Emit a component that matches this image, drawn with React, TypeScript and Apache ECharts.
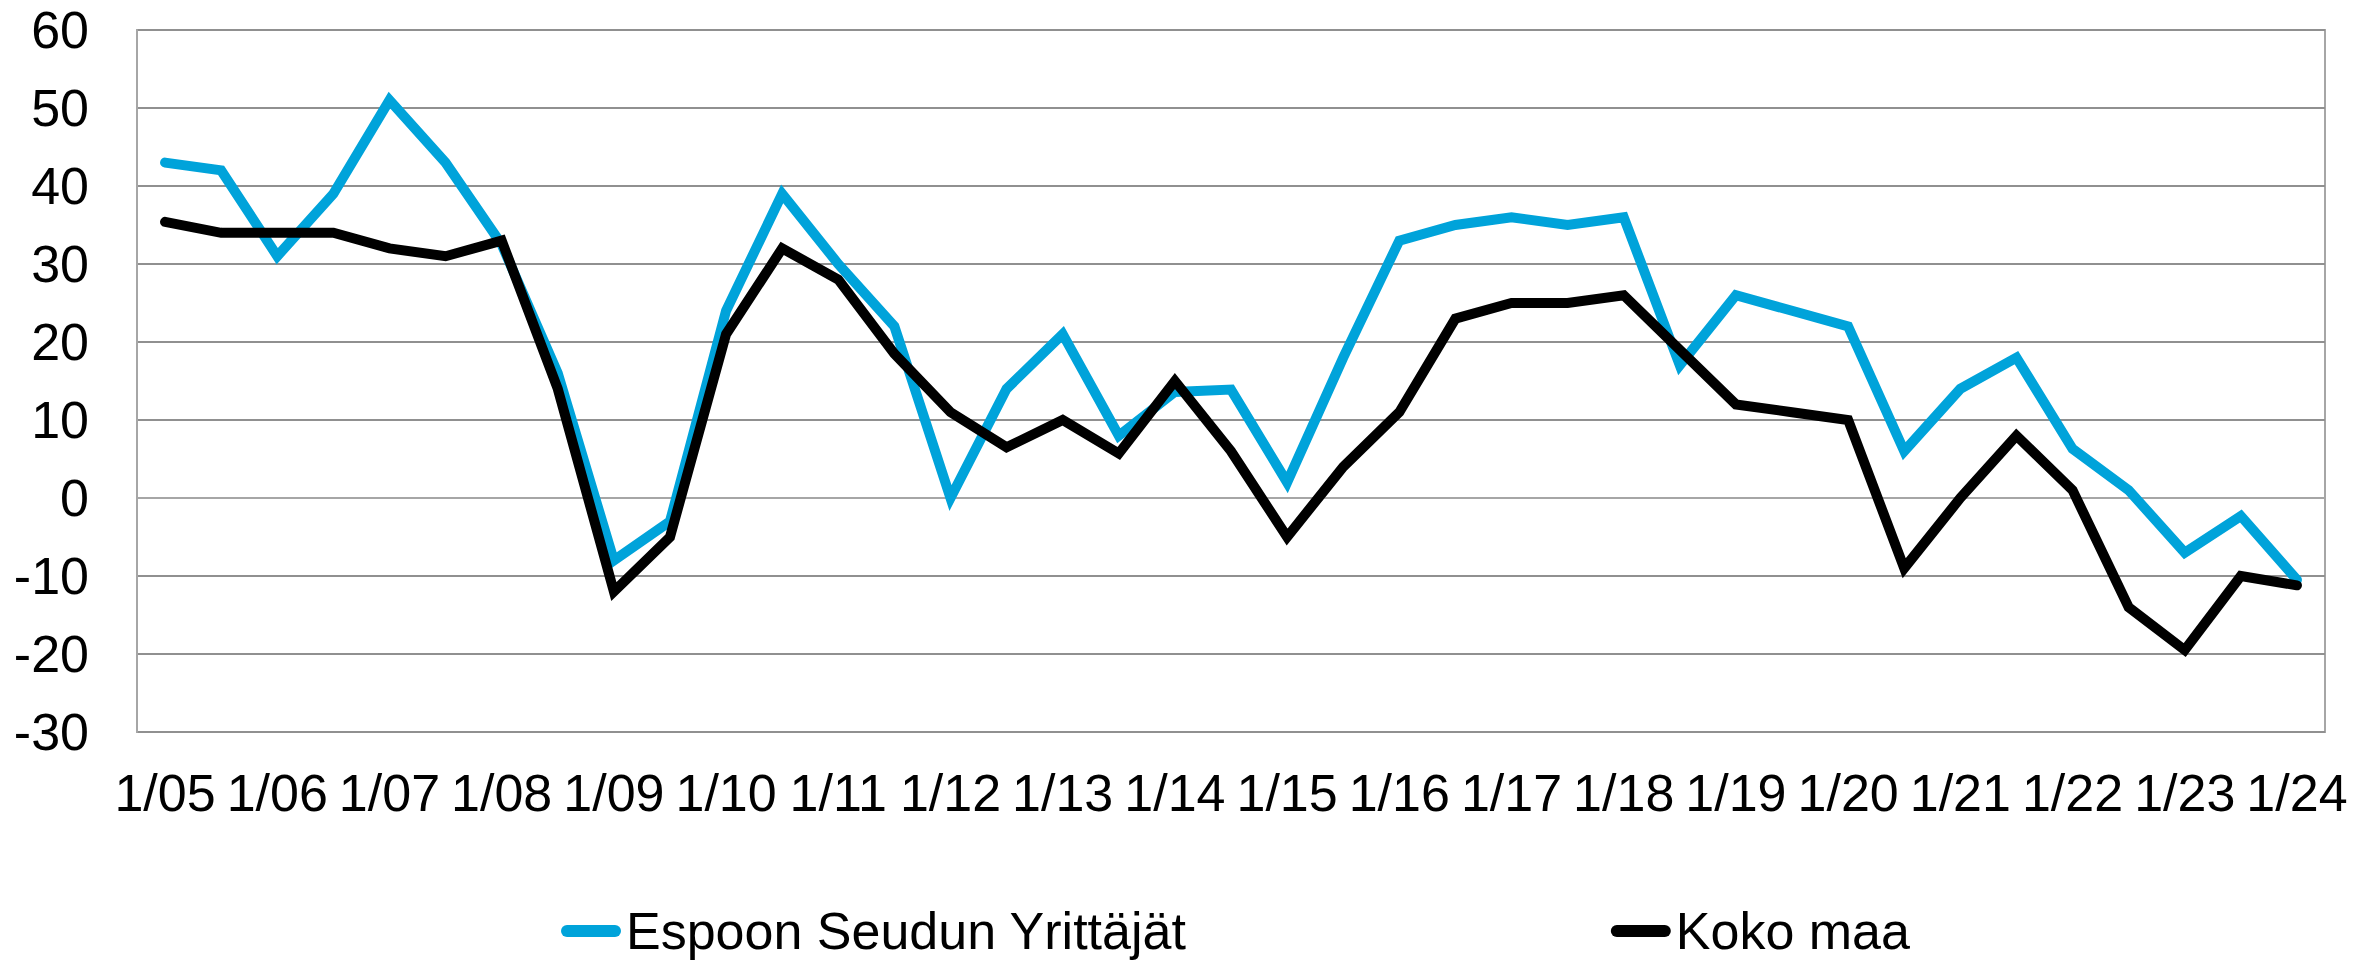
import React, { useEffect, useRef } from "react";
import * as echarts from "echarts";

const categories = [
  "1/05", "7/05", "1/06", "7/06", "1/07", "7/07", "1/08", "7/08", "1/09", "7/09",
  "1/10", "7/10", "1/11", "7/11", "1/12", "7/12", "1/13", "7/13", "1/14", "7/14",
  "1/15", "7/15", "1/16", "7/16", "1/17", "7/17", "1/18", "7/18", "1/19", "7/19",
  "1/20", "7/20", "1/21", "7/21", "1/22", "7/22", "1/23", "7/23", "1/24",
];

const espooValues = [
  43, 42, 31, 39, 51, 43, 32.5, 16, -8, -3,
  24, 39, 30, 22, 0, 14, 21, 8, 13.6, 13.9,
  2, 18, 33, 35, 36, 35, 36, 17, 26, 24,
  22, 6, 14, 18, 6.3, 1, -7, -2.3, -10.5,
];

const kokoMaaValues = [
  35.4, 34, 34, 34, 32, 31, 33, 14, -12, -5,
  21, 32, 28, 18.5, 11, 6.5, 10, 5.7, 15, 6,
  -5, 4, 11, 23, 25, 25, 26, 19, 12, 11,
  10, -9, 0, 8, 1, -14, -19.5, -10, -11.2,
];

const seriesNames = ["Espoon Seudun Yrittäjät", "Koko maa"];

const FONT = "'Liberation Sans', Arial, sans-serif";
const LEGEND_ICON = "path://M6,0H54A6,6,0,0,1,54,12H6A6,6,0,0,1,6,0Z";

export default function App() {
  const ref = useRef<HTMLDivElement>(null);
  useEffect(() => {
    if (!ref.current) return;
    const chart = echarts.init(ref.current, undefined, { renderer: "svg" });
    chart.setOption({
      animation: false,
      backgroundColor: "#ffffff",
      grid: {
        left: 137,
        right: 49,
        top: 30,
        bottom: 228,
        show: true,
        borderColor: "#a6a6a6",
        borderWidth: 2,
      },
      legend: {
        left: 556,
        top: 900,
        itemGap: 424,
        itemWidth: 60,
        itemHeight: 12,
        icon: LEGEND_ICON,
        textStyle: { fontSize: 52, lineHeight: 52, color: "#000", fontFamily: FONT },
        data: seriesNames,
      },
      xAxis: {
        type: "category",
        data: categories,
        boundaryGap: true,
        axisLine: { show: true, lineStyle: { color: "#a6a6a6", width: 2 } },
        axisTick: { show: false },
        axisLabel: {
          interval: 1,
          fontSize: 52,
          color: "#000",
          fontFamily: FONT,
          margin: 35,
        },
        splitLine: { show: false },
      },
      yAxis: {
        type: "value",
        min: -30,
        max: 60,
        interval: 10,
        axisLine: { show: true, lineStyle: { color: "#a6a6a6", width: 2 } },
        axisTick: { show: false },
        axisLabel: {
          fontSize: 52,
          color: "#000",
          fontFamily: FONT,
          margin: 48,
        },
        splitLine: { show: true, lineStyle: { color: "#909090", width: 2 } },
      },
      series: [
        {
          name: seriesNames[0],
          type: "line",
          data: espooValues,
          showSymbol: false,
          symbol: "none",
          itemStyle: { color: "#00a3da" },
          lineStyle: { color: "#00a3da", width: 10, join: "miter", cap: "round" },
          z: 2,
        },
        {
          name: seriesNames[1],
          type: "line",
          data: kokoMaaValues,
          showSymbol: false,
          symbol: "none",
          itemStyle: { color: "#000000" },
          lineStyle: { color: "#000000", width: 10, join: "miter", cap: "round" },
          z: 3,
        },
      ],
    });
    return () => chart.dispose();
  }, []);
  return (
    <div
      ref={ref}
      style={{ position: "fixed", left: 0, top: 0, width: 2374, height: 960 }}
    />
  );
}
